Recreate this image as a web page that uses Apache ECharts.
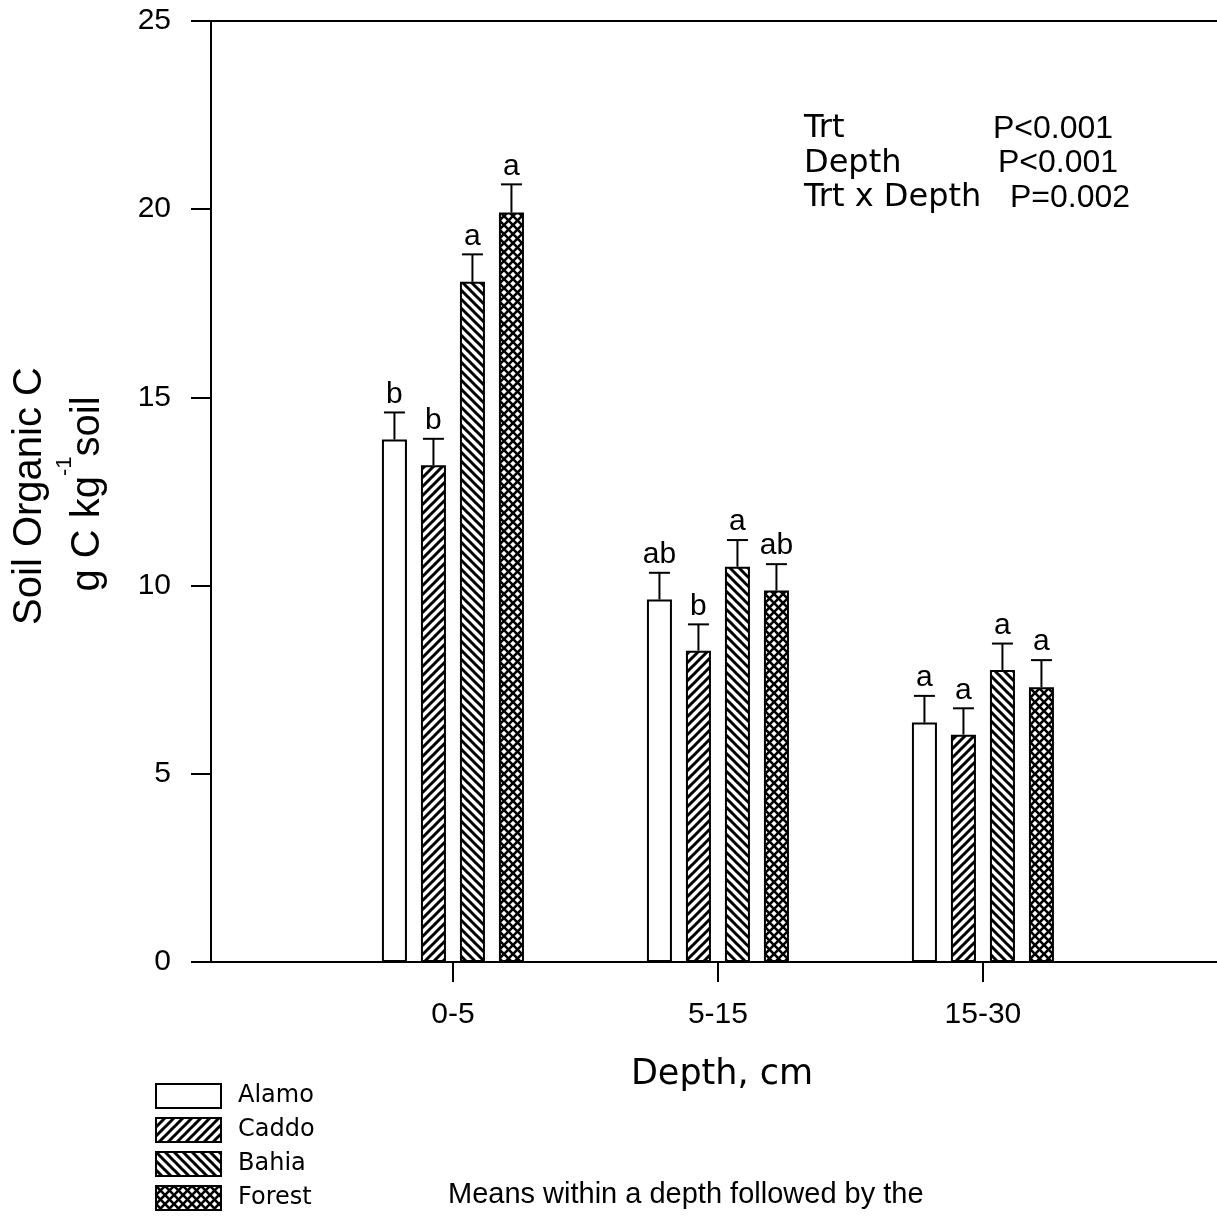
<!DOCTYPE html>
<html><head><meta charset="utf-8">
<script src="https://cdn.jsdelivr.net/npm/echarts@6/dist/echarts.min.js"></script>
<style>html,body{margin:0;padding:0;background:#fff}#c{width:1217px;height:1216px}</style>
</head><body><div id="c"></div>
<script>
// ---------- data ----------
const depths = ['0-5', '5-15', '15-30'];
const depthPos = [1, 2, 3];
const treatments = ['Alamo', 'Caddo', 'Bahia', 'Forest'];
const alamo  = [13.88, 9.63, 6.36];
const caddo  = [13.20, 8.27, 6.04];
const bahia  = [18.07, 10.50, 7.76];
const forest = [19.91, 9.87, 7.30];
const alamoErr  = [0.72, 0.71, 0.71];
const caddoErr  = [0.70, 0.70, 0.70];
const bahiaErr  = [0.73, 0.71, 0.70];
const forestErr = [0.75, 0.70, 0.72];
const alamoLetters  = ['b', 'ab', 'a'];
const caddoLetters  = ['b', 'b', 'a'];
const bahiaLetters  = ['a', 'a', 'a'];
const forestLetters = ['a', 'ab', 'a'];
const statLabels = ['Trt', 'Depth', 'Trt x Depth'];
const statValues = ['P<0.001', 'P<0.001', 'P=0.002'];

const means = [alamo, caddo, bahia, forest];
const errs = [alamoErr, caddoErr, bahiaErr, forestErr];
const letters = [alamoLetters, caddoLetters, bahiaLetters, forestLetters];

// ---------- styling ----------
const ARIAL = '"Liberation Sans", Arial, sans-serif';
const DEJAVU = '"DejaVu Sans", sans-serif';
const BAR_W = 25, BAR_GAP = 0.56, PITCH = BAR_W * (1 + BAR_GAP);
const X_MIN = 0.087, X_MAX = 4.1, PX_PER_UNIT = 265;
const GRID_LEFT = 211, GRID_TOP = 21, GRID_H = 941;

function hatch(dir) {
  const d = 9, c = document.createElement('canvas');
  c.width = d; c.height = d;
  const g = c.getContext('2d');
  g.fillStyle = '#fff'; g.fillRect(0, 0, d, d);
  g.strokeStyle = '#000'; g.lineWidth = dir === 'x' ? 2.6 : 3; g.lineCap = 'square';
  for (let i = -2; i <= 2; i++) {
    if (dir === '/' || dir === 'x') { g.beginPath(); g.moveTo(i * d, d); g.lineTo((i + 1) * d, 0); g.stroke(); }
    if (dir === '\\' || dir === 'x') { g.beginPath(); g.moveTo(i * d, 0); g.lineTo((i + 1) * d, d); g.stroke(); }
  }
  return { image: c, repeat: 'repeat' };
}
const fills = ['#ffffff', hatch('/'), hatch('\\'), hatch('x')];

const errData = [], errLetters = [];
treatments.forEach((t, i) => depthPos.forEach((x, j) => {
  errData.push([x, i, means[i][j], errs[i][j]]);
  errLetters.push(letters[i][j]);
}));

// text measure helper for y-axis title composition
const mctx = document.createElement('canvas').getContext('2d');
function tw(text, size, fam) { mctx.font = size + 'px ' + fam; return mctx.measureText(text).width; }
const t2a = 'g C kg', t2s = '-1', t2b = 'soil';
const w2a = tw(t2a, 40, ARIAL), w2s = tw(t2s, 22, ARIAL), w2b = tw(t2b, 40, ARIAL);
const w2 = w2a + w2s + w2b;

const chart = echarts.init(document.getElementById('c'), null, { renderer: 'canvas' });
chart.setOption({
  animation: false,
  backgroundColor: '#fff',
  grid: {
    left: GRID_LEFT, top: GRID_TOP, height: GRID_H,
    width: (X_MAX - X_MIN) * PX_PER_UNIT,
    show: true, borderColor: '#000', borderWidth: 2,
    containLabel: false, outerBoundsMode: 'none'
  },
  xAxis: {
    type: 'value', min: X_MIN, max: X_MAX,
    axisLine: { onZero: false, lineStyle: { color: '#000', width: 2 } },
    axisTick: { customValues: depthPos, length: 20, lineStyle: { color: '#000', width: 2 } },
    axisLabel: {
      customValues: depthPos, margin: 38, color: '#000', fontSize: 30, fontFamily: ARIAL,
      formatter: v => depths[depthPos.indexOf(v)] || ''
    },
    splitLine: { show: false }
  },
  yAxis: {
    type: 'value', min: 0, max: 25, interval: 5,
    axisLine: { show: true, onZero: false, lineStyle: { color: '#000', width: 2 } },
    axisTick: { show: true, length: 20, lineStyle: { color: '#000', width: 2 } },
    axisLabel: { margin: 40, color: '#000', fontSize: 30, fontFamily: ARIAL },
    splitLine: { show: false }
  },
  legend: {
    orient: 'vertical', left: 155, top: 1083, padding: 0,
    itemWidth: 65, itemHeight: 24, itemGap: 8,
    icon: 'rect', selectedMode: false,
    data: treatments,
    itemStyle: { borderColor: '#000', borderWidth: 2 },
    textStyle: { fontFamily: DEJAVU, fontSize: 24, color: '#000', lineHeight: 24, padding: [0, 0, 0, 12] }
  },
  series: treatments.map((name, i) => ({
    type: 'bar', name,
    data: depthPos.map((x, j) => [x, means[i][j]]),
    barWidth: BAR_W, barGap: (BAR_GAP * 100) + '%',
    itemStyle: { color: fills[i], borderColor: '#000', borderWidth: 2 },
    emphasis: { disabled: true }
  })).concat([{
    type: 'custom',
    data: errData,
    z: 10,
    renderItem: (params, api) => {
      const x = api.value(0), t = api.value(1), m = api.value(2), e = api.value(3);
      const p0 = api.coord([x, m]), p1 = api.coord([x, m + e]);
      const cx = p0[0] + (t - 1.5) * PITCH;
      const st = { stroke: '#000', lineWidth: 2 };
      return {
        type: 'group', children: [
          { type: 'line', shape: { x1: cx, y1: p0[1], x2: cx, y2: p1[1] }, style: st },
          { type: 'line', shape: { x1: cx - 10.5, y1: p1[1], x2: cx + 10.5, y2: p1[1] }, style: st },
          { type: 'text', x: cx, y: p1[1] - 3,
            style: { text: errLetters[params.dataIndex], fill: '#000', font: '30px ' + ARIAL, align: 'center', verticalAlign: 'bottom' } }
        ]
      };
    }
  }]),
  graphic: [
    { type: 'text', x: 30, y: 496, rotation: Math.PI / 2,
      style: { text: 'Soil Organic C', fill: '#000', font: '40px ' + ARIAL, align: 'center', verticalAlign: 'middle' } },
    { type: 'group', x: 88, y: 494, rotation: Math.PI / 2, children: [
      { type: 'text', x: -w2 / 2, y: 0, style: { text: t2a, fill: '#000', font: '40px ' + ARIAL, align: 'left', verticalAlign: 'middle' } },
      { type: 'text', x: -w2 / 2 + w2a, y: -23, style: { text: t2s, fill: '#000', font: '22px ' + ARIAL, align: 'left', verticalAlign: 'middle' } },
      { type: 'text', x: -w2 / 2 + w2a + w2s, y: 0, style: { text: t2b, fill: '#000', font: '40px ' + ARIAL, align: 'left', verticalAlign: 'middle' } }
    ] },
    { type: 'text', x: 722, y: 1075,
      style: { text: 'Depth, cm', fill: '#000', font: '35px ' + DEJAVU, align: 'center', verticalAlign: 'middle' } },
    { type: 'text', x: 804, y: 129, style: { text: statLabels[0], fill: '#000', font: '32px ' + DEJAVU, verticalAlign: 'middle' } },
    { type: 'text', x: 804, y: 163.5, style: { text: statLabels[1], fill: '#000', font: '32px ' + DEJAVU, verticalAlign: 'middle' } },
    { type: 'text', x: 804, y: 198, style: { text: statLabels[2], fill: '#000', font: '32px ' + DEJAVU, verticalAlign: 'middle' } },
    { type: 'text', x: 993, y: 129, style: { text: statValues[0], fill: '#000', font: '32px ' + ARIAL, verticalAlign: 'middle' } },
    { type: 'text', x: 998, y: 163.5, style: { text: statValues[1], fill: '#000', font: '32px ' + ARIAL, verticalAlign: 'middle' } },
    { type: 'text', x: 1010, y: 198, style: { text: statValues[2], fill: '#000', font: '32px ' + ARIAL, verticalAlign: 'middle' } },
    { type: 'text', x: 448, y: 1195,
      style: { text: 'Means within a depth followed by the', fill: '#000', font: '29px ' + ARIAL, verticalAlign: 'middle' } }
  ]
});
</script>
</body></html>
